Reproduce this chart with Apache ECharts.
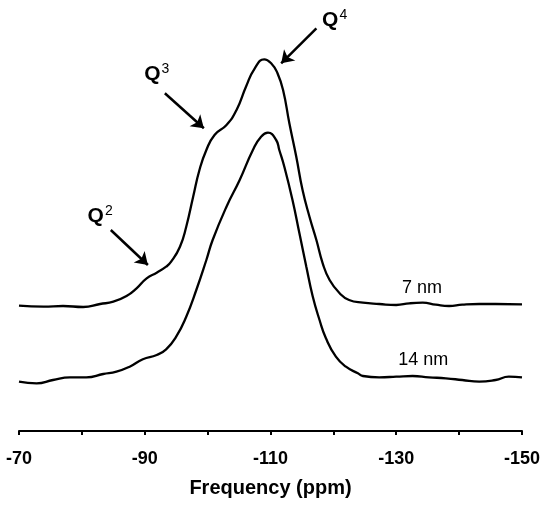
<!DOCTYPE html>
<html>
<head>
<meta charset="utf-8">
<script src="https://cdn.jsdelivr.net/npm/echarts@6/dist/echarts.min.js"></script>
<style>
html,body{margin:0;padding:0;background:#fff;}
#chart{width:543px;height:506px;}
</style>
</head>
<body>
<div id="chart"></div>
<script>
// Chemical shift (ppm) and intensity (a.u.)
const ppm7 = [-70.0,-73.9,-77.0,-80.2,-82.9,-85.0,-87.1,-88.7,-90.3,-91.9,-93.4,-94.2,-95.6,-96.6,-97.7,-98.7,-99.8,-101.1,-103.0,-104.6,-106.1,-107.5,-109.0,-110.2,-111.1,-112.0,-113.0,-114.1,-115.1,-116.2,-117.3,-118.3,-119.4,-121.0,-122.5,-124.7,-127.3,-130.0,-132.1,-134.2,-136.3,-138.4,-140.5,-143.2,-145.8,-150.0];
const int7 = [125.3,124.3,125,124,127,129.3,135,142.7,152.7,158.3,164.3,169.3,184.3,204.3,234.3,261,281,296,306,321,344.3,362.7,371.7,367,358,341,307.7,274.3,241,214.3,191,167.7,151,137.7,131,128.3,127,126,127.7,128.3,126.3,125,126.3,127,127,126.7];

const ppm14 = [-70.0,-72.8,-75.4,-78.1,-80.7,-83.4,-85.5,-87.6,-89.7,-91.9,-93.4,-95.0,-96.6,-98.2,-99.8,-100.8,-103.0,-105.1,-107.2,-108.5,-109.6,-110.9,-111.4,-112.2,-113.5,-114.6,-115.7,-116.7,-117.8,-118.8,-120.4,-122.0,-123.9,-124.7,-127.3,-130.0,-132.6,-135.2,-137.9,-140.5,-143.2,-145.8,-147.9,-150.0];
const int14 = [49.3,47.7,51,53.7,53.7,57,59.3,64.3,71.7,76,81.7,94.3,114.3,141,171,191,224.3,251,281,294.3,298.3,291,281,264.3,231,197.7,164.3,135,111,93,74.3,64.3,57.7,55,53.7,54.3,55,53.7,52.7,51,49.3,51,54.3,53.7];

const seriesNames = ['7 nm', '14 nm'];
const seriesLabelPos = [[-134.1, 143], [-134.3, 71]];

// Q-species annotations: label, superscript, label position, arrow start, arrow end (data units)
const qNames = ['Q', 'Q', 'Q'];
const qSup = ['2', '3', '4'];
const qLabelPos = [[-82.9, 215], [-91.9, 357], [-120.2, 411]];
const qArrowFrom = [[-84.6, 201], [-93.2, 337.7], [-117.3, 402.7]];
const qArrowTo = [[-90.5, 166], [-99.4, 302.7], [-111.7, 367.7]];

const xTicks = [-70, -90, -110, -130, -150];
const xTitle = 'Frequency (ppm)';

const FONT = "'Liberation Sans', Arial, Helvetica, sans-serif";

function pairs(xs, ys) { return xs.map((x, i) => [x, ys[i]]); }

const chart = echarts.init(document.getElementById('chart'), null, {renderer: 'canvas'});

const qMarkPoints = qNames.map((q, i) => ({
  coord: qLabelPos[i],
  symbol: 'circle',
  symbolSize: 0,
  label: {
    show: true,
    position: 'inside',
    formatter: '{q|' + q + '}{s|' + qSup[i] + '}',
    rich: {
      q: {fontFamily: FONT, fontSize: 21, fontWeight: 'bold', color: '#000', lineHeight: 24},
      s: {fontFamily: FONT, fontSize: 14, color: '#000', lineHeight: 14, verticalAlign: 'top', padding: [0, 0, 0, 1]}
    }
  }
}));

const qMarkLines = qArrowFrom.map((from, i) => [{coord: from}, {coord: qArrowTo[i]}]);

function nameMark(i) {
  return {
    silent: true,
    data: [{
      coord: seriesLabelPos[i],
      symbol: 'circle',
      symbolSize: 0,
      label: {show: true, position: 'inside', formatter: seriesNames[i], fontFamily: FONT, fontSize: 18, color: '#000'}
    }].concat(i === 0 ? qMarkPoints : [])
  };
}

const option = {
  backgroundColor: '#fff',
  animation: false,
  grid: {left: 19, right: 20, top: 0, bottom: 75, containLabel: false},
  xAxis: {
    type: 'value',
    inverse: true,
    min: -150,
    max: -70,
    interval: 10,
    splitLine: {show: false},
    axisLine: {show: true, onZero: false, lineStyle: {color: '#000', width: 2}},
    axisTick: {show: true, inside: false, length: 4, lineStyle: {color: '#000', width: 2}},
    axisLabel: {
      margin: 19,
      fontFamily: FONT,
      fontSize: 18,
      fontWeight: 'bold',
      color: '#000',
      formatter: v => (xTicks.indexOf(v) >= 0 ? String(v) : '')
    },
    name: xTitle,
    nameLocation: 'middle',
    nameGap: 47,
    nameTextStyle: {fontFamily: FONT, fontSize: 20, fontWeight: 'bold', color: '#000'}
  },
  yAxis: {type: 'value', min: 0, max: 431, show: false},
  series: [
    {
      name: seriesNames[0],
      type: 'line',
      data: pairs(ppm7, int7),
      smooth: 0.5,
      showSymbol: false,
      clip: false,
      lineStyle: {color: '#000', width: 2.3},
      markPoint: nameMark(0),
      markLine: {
        silent: true,
        symbol: ['none', 'arrow'],
        symbolSize: 12,
        label: {show: false},
        lineStyle: {color: '#000', width: 2.5, type: 'solid'},
        data: qMarkLines
      }
    },
    {
      name: seriesNames[1],
      type: 'line',
      data: pairs(ppm14, int14),
      smooth: 0.5,
      showSymbol: false,
      clip: false,
      lineStyle: {color: '#000', width: 2.3},
      markPoint: nameMark(1)
    }
  ]
};
chart.setOption(option);
</script>
</body>
</html>
